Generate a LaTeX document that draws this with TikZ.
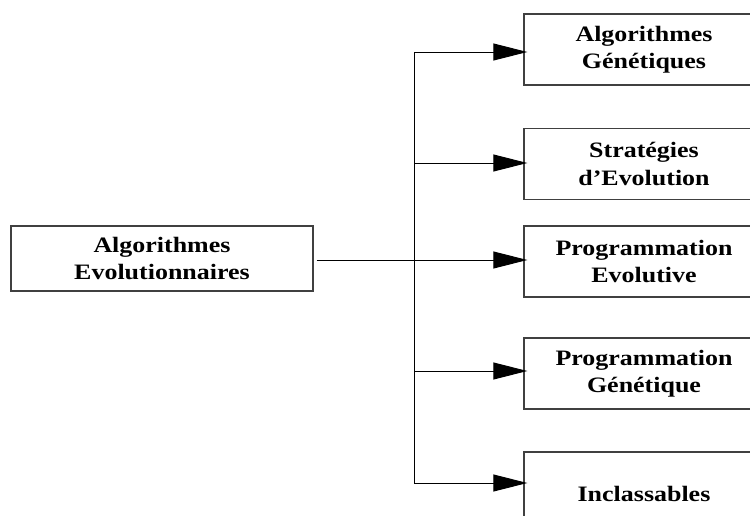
\documentclass[tikz,border=0pt]{standalone}
\usepackage{fontspec}
\setmainfont{Liberation Serif}[FakeStretch=1.18]
\usetikzlibrary{arrows.meta}
\begin{document}
\begin{tikzpicture}[x=1pt,y=-1pt,
  box/.style={draw=black!75, line width=1.4pt, rectangle, minimum width=240pt,
    minimum height=71pt, inner sep=0pt, align=center,
    font=\fontsize{22}{27.5}\selectfont\bfseries},
  wire/.style={draw=black, line width=0.9pt},
  arr/.style={wire, -{Triangle[length=34pt,width=17pt]}, shorten >=-4pt}]
\clip (0,0) rectangle (750,516);
\useasboundingbox (0,0) rectangle (750,516);
\fill[white] (0,0) rectangle (750,516);

% source box
\node[box, minimum width=302pt, minimum height=65pt] (ae) at (162,258.5) {Algorithmes\\Evolutionnaires};

% target boxes on the right
\node[box] (ag) at (644,49.5) {Algorithmes\\Génétiques};
\node[box] (se) at (644,164) {Stratégies\\d’Evolution};
\node[box] (pe) at (644,261.5) {Programmation\\Evolutive};
\node[box] (pg) at (644,373.5) {Programmation\\Génétique};
\node[box, minimum height=83pt] (in) at (644,493.5) {Inclassables};

% distribution bus
\coordinate (top) at (414,52);
\coordinate (bot) at (414,483);
\draw[wire] (top) -- (bot);
\draw[wire] (ae.east) ++(3pt,-1.5pt) coordinate (s) -- (s -| top);

% branches
\draw[arr] (top) -- (top -| ag.west);
\draw[arr] (414,163) -- (se.west |- 0,163);
\draw[arr] (s -| top) -- (pe.west |- s);
\draw[arr] (414,371) -- (pg.west |- 0,371);
\draw[arr] (bot) -- (bot -| in.west);
\end{tikzpicture}
\end{document}
